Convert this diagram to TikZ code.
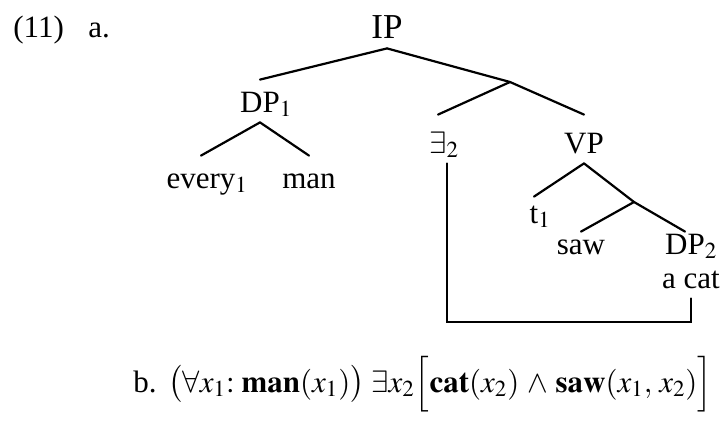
\documentclass[tikz,border=0pt]{standalone}
\usepackage{mathptmx}
\usepackage{fontspec}
\setmainfont{Liberation Serif}
\usepackage{tikz}
\newcommand\treefont{\fontsize{15.5pt}{18pt}\selectfont}
\tikzset{
  lbl/.style={anchor=base, inner xsep=0pt, inner ysep=2pt, text height=14pt,
    text depth=3pt, font=\treefont},
  high/.style={lbl, text height=17pt},
  mid/.style={lbl, text height=11pt},
  low/.style={lbl, text height=9pt},
  branch/.style={line width=1.1pt, line cap=round}
}

\begin{document}
\begin{tikzpicture}[x=0.5pt, y=-0.5pt]
\useasboundingbox (0,0) rectangle (726,428);
% example number
\node[lbl, anchor=base west] (num)   at (13,37)  {(11)};
\node[lbl, anchor=base west] (parta) at (88,37)  {a.};
% tree
\node[lbl, font=\fontsize{17.5pt}{20pt}\selectfont] (ip) at (387,38) {IP};
\node[lbl]  (dp1)   at (260,112) {DP\rlap{$_1$}};
\node[lbl]  (every) at (201,188) {every\rlap{$_1$}};
\node[lbl]  (man)   at (309,188) {man};
\coordinate (ibar)  at (510,82);
\node[high] (ex2)   at (438,153) {$\exists$\rlap{$_2$}};
\node[high] (vp)    at (584,153) {VP};
\node[mid]  (t1)    at (534,223) {t\rlap{$_1$}};
\coordinate (vbar)  at (634,202);
\node[low]  (saw)   at (581,254) {saw};
\node[low]  (dp2)   at (685,254) {DP\rlap{$_2$}};
\node[lbl]  (acat)  at (691,288) {a cat};
\coordinate (trace) at (691,322);

\draw[branch] (ip.south)  -- (dp1.north);
\draw[branch] (ip.south)  -- (ibar);
\draw[branch] (dp1.south) -- (every.north);
\draw[branch] (dp1.south) -- (man.north);
\draw[branch] (ibar)      -- (ex2.north);
\draw[branch] (ibar)      -- (vp.north);
\draw[branch] (vp.south)  -- (t1.north);
\draw[branch] (vp.south)  -- (vbar);
\draw[branch] (vbar)      -- (saw.north);
\draw[branch] (vbar)      -- (dp2.north);
% movement line
\draw[branch] (ex2.south east) |- (trace) -- (acat.south);

% formula
\node[lbl, anchor=base west] (partb)   at (133,392) {b.};
\node[lbl, anchor=base west] (formula) at (168,392)
  {$\bigl(\forall x_1{:}\;\mathbf{man}(x_1)\bigr)\;\exists x_2\Bigl[\mathbf{cat}(x_2)\,\wedge\,\mathbf{saw}(x_1,\,x_2)\Bigr]$};
\end{tikzpicture}
\end{document}
